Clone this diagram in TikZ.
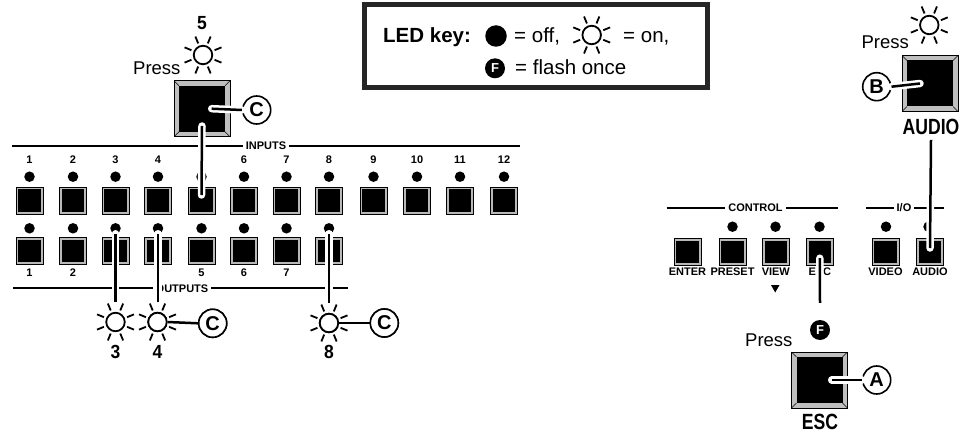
\documentclass[tikz,border=0pt]{standalone}
\usepackage{fontspec}
\setmainfont{Liberation Sans}
\newfontfamily\condf[FakeStretch=0.8]{Liberation Sans}
\newfontfamily\digf[FakeStretch=0.92]{Liberation Sans}
\usetikzlibrary{calc}
\newcommand\sunrays[1]{\foreach \a in {22.5,67.5,...,337.5}{\draw[line width=1.8pt] ([shift={(\a:12.5pt)}]#1.center) -- ([shift={(\a:20pt)}]#1.center);}}
\begin{document}
\begin{tikzpicture}[x=1pt,y=-1pt,
  btn/.style={rectangle, draw=black, line width=0.8pt, fill=gray!55, minimum width=27pt, minimum height=27pt, inner sep=0pt,
    path picture={\fill[black] ([shift={(2.3pt,2.3pt)}]path picture bounding box.south west) rectangle ([shift={(-2.3pt,-2.3pt)}]path picture bounding box.north east);}},
  bigbtn/.style={rectangle, draw=black, line width=1pt, fill=gray!50, minimum width=56pt, minimum height=56pt, inner sep=0pt,
    path picture={\fill[black] ([shift={(5pt,5pt)}]path picture bounding box.south west) rectangle ([shift={(-5pt,-5pt)}]path picture bounding box.north east);
      \draw[black,line width=0.5pt] (path picture bounding box.south west) -- ++(5pt,5pt) (path picture bounding box.north west) -- ++(5pt,-5pt) (path picture bounding box.north east) -- ++(-5pt,-5pt) (path picture bounding box.south east) -- ++(-5pt,5pt);}},
  led/.style={circle, fill=black, minimum size=10.5pt, inner sep=0pt},
  sunc/.style={circle, draw=black, line width=1.8pt, fill=white, minimum size=18.5pt, inner sep=0pt},
  callout/.style={circle, draw=black, line width=1.6pt, fill=white, minimum size=28pt, inner sep=0pt, font=\bfseries\fontsize{20}{22}\selectfont},
  flash/.style={circle, fill=black, minimum size=20pt, inner sep=0pt, text=white, font=\bfseries\fontsize{13}{15}\selectfont},
  conn/.style={line width=2.5pt, black, preaction={draw=white, line width=7.5pt, line cap=round}},
  panelline/.style={line width=2.2pt},
  small/.style={font=\bfseries\fontsize{11}{13}\selectfont, inner sep=0pt, anchor=base},
  head/.style={font=\bfseries\fontsize{11}{13}\selectfont, fill=white, inner xsep=3pt, inner ysep=1pt, anchor=base},
  big/.style={font=\condf\bfseries\fontsize{22}{25}\selectfont, inner sep=0pt, anchor=base},
  digit/.style={font=\digf\bfseries\fontsize{19}{22}\selectfont, inner sep=0pt, anchor=base},
  press/.style={font=\fontsize{18.5}{22}\selectfont, inner sep=0pt},
  keytxt/.style={font=\fontsize{20.5}{24}\selectfont, inner sep=0pt, anchor=base west}
]
\useasboundingbox (0,0) rectangle (964,433);

% ---------- LED key ----------
\draw[line width=5pt, black!85] (364.5,4.5) rectangle (707.5,87.5);
\node[keytxt, font=\bfseries\fontsize{20.5}{24}\selectfont] (keyl) at (383,42.7) {LED key:};
\node[circle, fill=black, minimum size=21.5pt, inner sep=0pt] (keyoff) at (496,36) {};
\node[keytxt] (keyofft) at (514,42.7) {= off,};
\node[sunc] (keysun) at (591.7,35) {};
\sunrays{keysun}
\node[keytxt] (keyont) at (623,42.7) {= on,};
\node[flash] (keyf) at (495,68.3) {F};
\node[keytxt] (keyft) at (515,75) {= flash once};

% ---------- Inputs / outputs panel ----------
\draw[panelline] (12,145.7) -- (520,145.7);
\node[head] (inh) at (266,149.8) {INPUTS};
\draw[panelline] (13,288.3) -- (348,288.3);
\node[head] (outh) at (182,292.7) {OUTPUTS};

\foreach \i/\x in {1/29.5,2/73,3/115.5,4/158,5/201.5,6/244,7/286.5,8/329,9/373.5,10/417,11/460,12/504}{
  \node[small] (inl\i) at (\x,163.5) {\i};
  \node[led] (li\i) at (\x,176.7) {};
  \node[btn] (in\i) at (\x,200.5) {};
}
\foreach \i/\x in {1/29.5,2/73,3/115.5,4/158,5/201.5,6/244,7/286.5,8/329}{
  \node[led] (lo\i) at (\x,228.3) {};
  \node[btn] (out\i) at (\x,251) {};
  \node[small] (outl\i) at (\x,276) {\i};
}

% ---------- Control / IO panel ----------
\draw[panelline] (666.7,208.3) -- (838,208.3);
\node[head] (ctrlh) at (755.5,211.7) {CONTROL};
\draw[panelline] (866,208.3) -- (944,208.3);
\node[head] (ioh) at (904,211.7) {I/O};
\foreach \n/\x/\t in {enter/687.5/ENTER,preset/732.5/PRESET,view/775.8/VIEW,esc/819.8/ESC,video/885.5/VIDEO,au/930/AUDIO}{
  \node[btn] (\n) at (\x,251.7) {};
  \node[small] (\n l) at (\x,275) {\t};
}
\foreach \n/\x in {preset/732.5,view/775.5,esc/819.5,video/886,au/928.5}{
  \node[led] (l\n) at (\x,226.7) {};
}
\fill (771,285) -- (779.5,285) -- (775.2,292.5) -- cycle;

% ---------- big buttons and texts ----------
\node[digit] (t5) at (202,30) {5};
\node[press, anchor=base west] (p1) at (133,75) {Press};
\node[bigbtn] (top5) at (202,108.7) {};

\node[press, anchor=base east] (p2) at (909,48.3) {Press};
\node[bigbtn] (aubig) at (930,83.5) {};
\node[big] (audiotxt) at (931,134.5) {AUDIO};

\node[press, anchor=base west] (p3) at (745,346.7) {Press};
\node[bigbtn] (escbig) at (819.5,380) {};
\node[big] (esctxt) at (820,429.5) {ESC};

\node[digit] (t3) at (115.5,358) {3};
\node[digit] (t4) at (157.5,358) {4};
\node[digit] (t8) at (329,358) {8};

% ---------- connectors ----------
\node[callout] (c1) at (256.7,110) {C};
\node[callout] (cb) at (876.7,86.7) {B};
\node[callout] (ca) at (876.7,380) {A};
\node[flash] (fesc) at (820,330) {F};

\draw[conn] ([yshift=-17.3pt]top5.center) -- ([yshift=5.5pt]in5.center);
\draw[conn] (c1.west) -- ([xshift=9.7pt]top5.center);
\draw[conn] (lo3.south) -- (115.5,302);
\draw[conn] (lo4.south) -- (158,302);
\draw[conn] (lo8.south) -- (329,303);
\draw[conn] (cb.east) -- ([xshift=-10pt]aubig.center);
\draw[conn] ([yshift=-5pt]audiotxt.south) -- ([yshift=3.7pt]au.center);
\draw[conn] ([yshift=-6.5pt]esc.center) -- ([yshift=17pt]fesc.north);
\draw[conn] (ca.west) -- ([xshift=12.2pt]escbig.center);

% suns and callouts on the output side
\node[sunc] (s5) at (203,55) {};
\node[sunc] (sr) at (929.3,25) {};
\node[sunc] (s3) at (115.5,322) {};
\node[sunc] (s4) at (157.5,322) {};
\node[sunc] (s8) at (329,323) {};
\node[callout] (c2) at (212.7,323.3) {C};
\node[callout] (c3) at (384.3,323) {C};
\draw[conn] (s4.east) -- (c2.west);
\draw[conn] (s8.east) -- (c3.west);
\node[sunc] at (s4) {};
\node[sunc] at (s8) {};
\node[callout] at (c2) {C};
\node[callout] at (c3) {C};
\sunrays{s5}
\sunrays{sr}
\sunrays{s3}
\sunrays{s4}
\sunrays{s8}
\end{tikzpicture}
\end{document}
